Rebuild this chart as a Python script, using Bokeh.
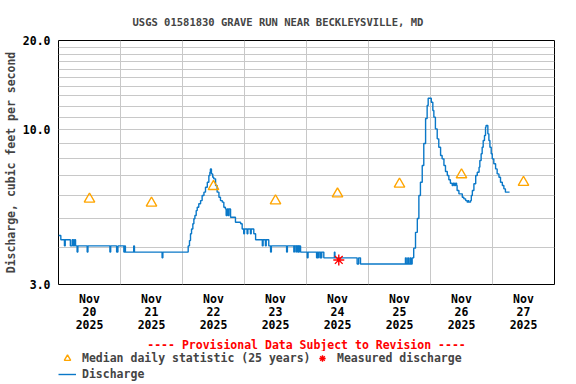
from bokeh.plotting import figure
from bokeh.layouts import column
from bokeh.models import (Range1d, FixedTicker, PrintfTickFormatter, Title,
                          Legend, LegendItem)
from bokeh.embed import file_html
from bokeh.resources import INLINE

title_text = "USGS 01581830 GRAVE RUN NEAR BECKLEYSVILLE, MD"
y_label = "Discharge, cubic feet per second"
provisional_text = "---- Provisional Data Subject to Revision ----"
legend_labels = ["Median daily statistic (25 years)", "Measured discharge", "Discharge"]

# hours since 2025-11-20 00:00
day_tick_hours = [12, 36, 60, 84, 108, 132, 156, 180]
day_tick_labels = ["Nov\n20\n2025", "Nov\n21\n2025", "Nov\n22\n2025", "Nov\n23\n2025",
                   "Nov\n24\n2025", "Nov\n25\n2025", "Nov\n26\n2025", "Nov\n27\n2025"]
midnight_hours = [24, 48, 72, 96, 120, 144, 168]
y_label_ticks = [3, 10, 20]
y_grid_ticks = [4, 5, 6, 7, 8, 9, 10, 11, 12, 13, 14, 15, 16, 17, 18, 19]

median_hours = [12, 36, 60, 84, 108, 132, 156, 180]
median_cfs = [5.83, 5.65, 6.43, 5.75, 6.07, 6.55, 7.04, 6.64]

measured_hours = [108.5]
measured_cfs = [3.63]

discharge_hours = [
    0.0, 0.9, 2.3, 2.6, 4.6, 5.3, 5.8, 6.2, 6.6, 7.2, 7.5, 11.1, 11.4,
    19.9, 20.2, 22.5, 23.0, 25.3, 25.6, 25.9, 29.1, 29.4, 40.1, 40.4,
    50.2, 50.7, 51.1, 51.5, 52.0, 52.4, 52.8, 53.3, 53.7, 54.3, 55.0, 55.6,
    56.3, 56.9, 57.6, 58.2, 58.6, 58.8, 59.2, 59.7, 60.1, 60.8, 61.4, 62.1,
    62.7, 63.4, 64.0, 64.6, 64.9, 65.3, 65.7, 66.0, 66.6, 68.5, 70.5, 71.1,
    71.7, 72.0, 73.0, 73.3, 74.3, 74.6, 75.6, 76.3, 78.9, 79.2, 80.1, 80.4,
    81.4, 82.1, 82.4,
    88.3, 88.6, 91.1, 91.3, 91.9, 92.1, 92.6, 92.8, 93.0, 93.2, 93.7,
    96.3, 96.6, 99.9, 100.1, 100.4, 100.6, 101.2, 101.4, 101.7, 101.9, 102.7,
    106.8, 107.0, 115.6, 116.2, 116.9,
    134.3, 134.6, 135.2, 135.5, 136.1, 136.4, 136.9, 137.5,
    138.2, 138.9, 139.5, 140.1, 140.8, 141.4, 142.1, 142.7, 143.1, 144.3,
    144.9, 145.3, 145.9, 146.6, 147.2, 147.9, 148.5, 149.2, 149.8, 150.5,
    151.1, 151.7, 152.4, 152.8, 153.3, 153.7, 154.1, 154.3, 155.0, 156.3,
    156.9, 157.6, 158.2, 158.6, 158.8, 159.5, 159.8, 160.2, 160.8, 161.5,
    162.1, 162.8, 163.1, 163.6, 164.0, 164.4, 164.9, 165.3, 165.5, 166.2,
    166.6, 167.0, 167.5, 167.9, 168.5, 169.2, 169.8, 170.5, 171.1, 171.8,
    172.4, 173.0, 174.6,
]
discharge_cfs = [
    4.39, 4.25, 4.05, 4.25, 4.05, 4.25, 4.05, 4.25, 4.05, 3.86, 4.05, 3.86, 4.05,
    3.86, 4.05, 3.86, 4.05, 3.86, 4.05, 3.86, 4.05, 3.86, 3.69, 3.86,
    4.05, 4.22, 4.45, 4.62, 4.81, 5.00, 5.13, 5.33, 5.47, 5.62, 5.76, 5.99,
    6.15, 6.39, 6.64, 7.00, 7.18, 7.37, 7.09, 6.91, 6.82, 6.48, 6.15, 5.91,
    5.76, 5.69, 5.47, 5.40, 5.13, 5.40, 5.13, 5.40, 5.06, 4.87, 4.81, 4.62,
    4.45, 4.62, 4.45, 4.62, 4.45, 4.62, 4.45, 4.25, 4.05, 4.25, 4.05, 4.25,
    4.05, 3.86, 4.05,
    3.86, 4.05, 3.86, 4.05, 3.86, 4.05, 3.86, 4.05, 3.86, 4.05, 3.86,
    3.69, 3.86, 3.69, 3.86, 3.69, 3.86, 3.69, 3.86, 3.69, 3.86, 3.69,
    3.86, 3.69, 3.52, 3.69, 3.52,
    3.69, 3.52, 3.69, 3.52, 3.69, 3.52, 3.69, 3.98,
    4.50, 5.01, 5.99, 6.64, 7.57, 8.98, 10.9, 12.06, 12.77, 12.38,
    11.6, 11.02, 10.06, 9.31, 8.72, 8.18, 7.97, 7.57, 7.22, 7.00,
    6.77, 6.59, 6.48, 6.59, 6.48, 6.59, 6.48, 6.23, 6.07, 5.91,
    5.84, 5.76, 5.69, 5.76, 5.69, 5.76, 5.99, 6.23, 6.57, 7.00,
    7.18, 7.47, 7.87, 8.29, 8.72, 9.19, 9.55, 10.19, 10.33, 9.68,
    9.19, 8.72, 8.29, 7.97, 7.67, 7.37, 7.09, 6.91, 6.64, 6.48,
    6.31, 6.15, 6.15,
]

FONT = "DejaVu Sans Mono"
LINE_COLOR = "#0A78C8"
TRI_COLOR = "#FFA500"
AST_COLOR = "#FF0000"

line_style = dict(line_color=LINE_COLOR, line_width=1.4)
tri_style = dict(marker="triangle", size=10.5, fill_color=None, line_color=TRI_COLOR, line_width=1.4)
ast_style = dict(marker="asterisk", size=11, line_color=AST_COLOR, line_width=1.4)

p = figure(width=576, height=350, x_range=Range1d(0, 192), y_range=Range1d(3, 20),
           y_axis_type="log", output_backend="svg", toolbar_location=None,
           frame_width=496, frame_height=244,
           min_border_left=58, min_border_right=22, min_border_top=40,
           min_border_bottom=66)

p.background_fill_color = "white"
p.border_fill_color = "white"
p.outline_line_color = "black"
p.outline_line_width = 1
p.outline_line_alpha = 1.0

p.title.text = title_text
p.title.text_font = FONT
p.title.text_font_style = "bold"
p.title.text_font_size = "10.5px"
p.title.align = "left"
p.title.offset = 74
p.title.standoff = 26

# axes
for ax in (p.xaxis[0], p.yaxis[0]):
    ax.axis_line_color = None
    ax.major_tick_line_color = None
    ax.minor_tick_line_color = None
    ax.major_tick_out = 0
    ax.major_tick_in = 0
    ax.minor_tick_out = 0
    ax.minor_tick_in = 0
    ax.major_label_text_font = FONT
    ax.major_label_text_font_style = "bold"
    ax.major_label_text_font_size = "11.5px"
    ax.major_label_text_color = "black"

p.xaxis.ticker = FixedTicker(ticks=day_tick_hours)
p.xaxis.major_label_overrides = dict(zip(day_tick_hours, day_tick_labels))
p.xaxis.major_label_standoff = 7
p.xaxis.major_label_text_line_height = 0.95

p.yaxis.ticker = FixedTicker(ticks=y_label_ticks)
p.yaxis.formatter = PrintfTickFormatter(format="%.1f")
p.yaxis.major_label_standoff = 8
p.yaxis.axis_label = y_label
p.yaxis.axis_label_text_font = FONT
p.yaxis.axis_label_text_font_style = "bold"
p.yaxis.axis_label_text_font_size = "11.5px"
p.yaxis.axis_label_standoff = 2

# grids
p.xgrid.ticker = FixedTicker(ticks=midnight_hours)
p.ygrid.ticker = FixedTicker(ticks=y_grid_ticks)
for g in (p.xgrid[0], p.ygrid[0]):
    g.grid_line_color = "#c8c8c8"
    g.grid_line_width = 1

# data
p.step(discharge_hours, discharge_cfs, mode="after", **line_style)
p.scatter(median_hours, median_cfs, **tri_style)
p.scatter(measured_hours, measured_cfs, **ast_style)

# provisional note below the axis
prov = Title(text=provisional_text, align="center", text_font=FONT,
             text_font_style="bold", text_font_size="11.5px", text_color="#FF0000",
             standoff=0)
p.add_layout(prov, "below")

# legend strip: same series drawn on ranges that keep them out of view,
# only their legend glyphs are shown
lg = figure(width=576, height=34, x_range=Range1d(-2, -1), y_range=Range1d(-2, -1),
            x_axis_type=None, y_axis_type=None, output_backend="svg",
            toolbar_location=None, min_border=0)
lg.outline_line_color = None
lg.grid.visible = False
lg.border_fill_color = "white"
lg_tri = lg.scatter(median_hours, median_cfs, **tri_style)
lg_ast = lg.scatter(measured_hours, measured_cfs, **ast_style)
lg_line = lg.line(discharge_hours, discharge_cfs, **line_style)

legend = Legend(items=[
    LegendItem(label=legend_labels[0], renderers=[lg_tri]),
    LegendItem(label=legend_labels[2], renderers=[lg_line]),
    LegendItem(label=legend_labels[1], renderers=[lg_ast]),
], ncols=2, location=(0, 3))
legend.label_text_font = FONT
legend.label_text_font_style = "bold"
legend.label_text_font_size = "11.5px"
legend.glyph_width = 18
legend.glyph_height = 16
legend.label_height = 13
legend.label_width = 231
legend.label_standoff = 6
legend.spacing = 0
legend.padding = 0
legend.margin = 0
legend.border_line_color = None
legend.background_fill_alpha = 0
lg.add_layout(legend, "center")

open("out.html", "w").write(file_html(column(p, lg, spacing=0), INLINE))
